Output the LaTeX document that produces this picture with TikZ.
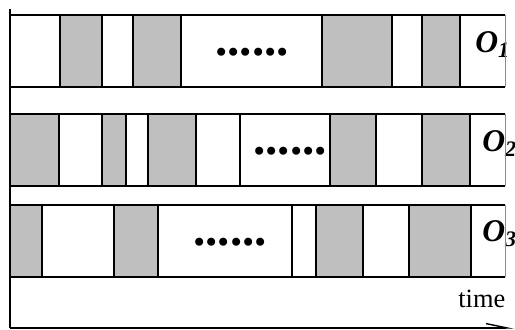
\documentclass[tikz,border=0pt]{standalone}
\usepackage{fontspec}
\setmainfont{Liberation Serif}
\usepackage{tikz}
\usetikzlibrary{arrows.meta}
\tikzset{
  tlslot/.style={draw=black, line width=1.1pt, line join=miter},
  tlbusy/.style={tlslot, fill=black!25},
  tlfree/.style={tlslot, fill=white},
  tledge/.style={line width=0.5pt, draw=black!45},
  tlaxis/.style={line width=1.2pt, draw=black},
  tldots/.style={inner sep=0pt, anchor=base west, font=\fontsize{28}{30}\selectfont\bfseries},
  tlname/.style={inner sep=0pt, anchor=base west, font=\fontsize{18}{20}\selectfont\bfseries\itshape},
}

\begin{document}
\begin{tikzpicture}[x=0.02cm, y=-0.02cm]
\useasboundingbox (0,0) rectangle (515,330);
% time axis
\coordinate (top) at (10,9);
\coordinate (orig) at (10,328);
\coordinate (tend) at (514,328);
\draw[tlaxis] (top) -- (orig);
\draw[tlaxis, -{Straight Barb[harpoon, length=12pt, width=5pt, line width=0.8pt]}] (orig) -- (tend);
\node[inner sep=0pt, anchor=base west, font=\fontsize{15}{17}\selectfont] (time) at (458,308) {time};
% O1
\draw[tlfree] (10,15) rectangle (60,87);
\draw[tlbusy] (60,15) rectangle (102,87);
\draw[tlfree] (102,15) rectangle (133,87);
\draw[tlbusy] (133,15) rectangle (181,87);
\draw[tlfree] (181,15) rectangle (322,87);
\draw[tlbusy] (322,15) rectangle (392,87);
\draw[tlfree] (392,15) rectangle (422,87);
\draw[tlbusy] (422,15) rectangle (460,87);
\draw[tlfree] (505,15) -| (460,87) -- (505,87);
\node[tldots] (dots1) at (215,56) {......};
\node[tlname] (o1) at (475,53) {O\textsubscript{1}};
\draw[tledge] (505,15) -- (505,87);
% O2
\draw[tlbusy] (10,114) rectangle (59,186);
\draw[tlfree] (59,114) rectangle (102,186);
\draw[tlbusy] (102,114) rectangle (126,186);
\draw[tlfree] (126,114) rectangle (148,186);
\draw[tlbusy] (148,114) rectangle (196,186);
\draw[tlfree] (196,114) rectangle (240,186);
\draw[tlfree] (240,114) rectangle (330,186);
\draw[tlbusy] (330,114) rectangle (376,186);
\draw[tlfree] (376,114) rectangle (422,186);
\draw[tlbusy] (422,114) rectangle (470,186);
\draw[tlfree] (505,114) -| (470,186) -- (505,186);
\node[tldots] (dots2) at (253,155) {......};
\node[tlname] (o2) at (482,152) {O\textsubscript{2}};
\draw[tledge] (505,114) -- (505,186);
% O3
\draw[tlbusy] (10,205) rectangle (42,277);
\draw[tlfree] (42,205) rectangle (114,277);
\draw[tlbusy] (114,205) rectangle (158,277);
\draw[tlfree] (158,205) rectangle (292,277);
\draw[tlfree] (292,205) rectangle (316,277);
\draw[tlbusy] (316,205) rectangle (363,277);
\draw[tlfree] (363,205) rectangle (409,277);
\draw[tlbusy] (409,205) rectangle (471,277);
\draw[tlfree] (505,205) -| (471,277) -- (505,277);
\node[tldots] (dots3) at (193,246) {......};
\node[tlname] (o3) at (482,242) {O\textsubscript{3}};
\draw[tledge] (505,205) -- (505,277);
\end{tikzpicture}
\end{document}
